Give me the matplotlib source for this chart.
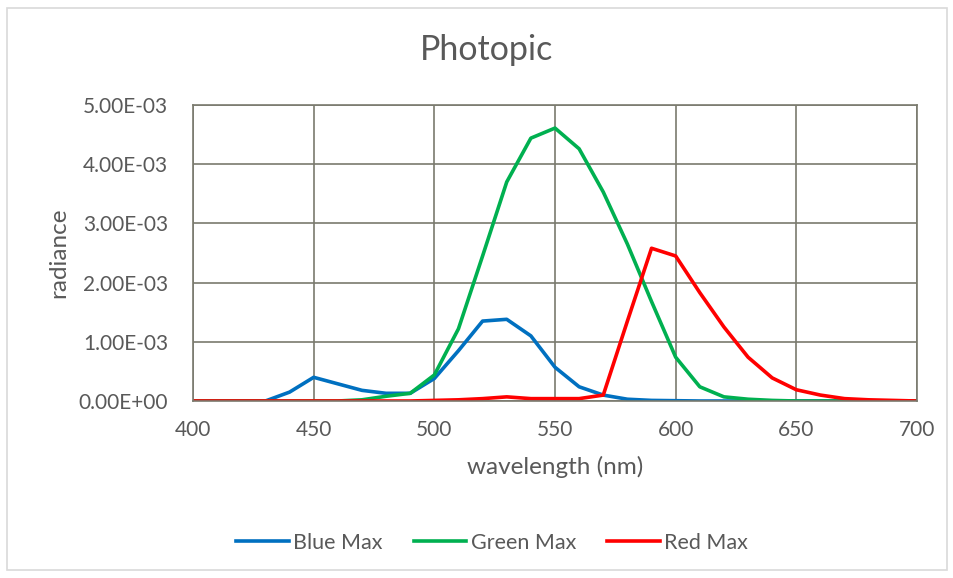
import matplotlib.pyplot as plt
from matplotlib.patches import Rectangle
from matplotlib.ticker import FuncFormatter
import numpy as np

plt.rcParams['font.family'] = ['Lato', 'DejaVu Sans']

wavelength = np.arange(400, 701, 10)

blue_max = [0, 0, 0, 0.0, 0.15, 0.40, 0.29, 0.18, 0.13, 0.13,
            0.38, 0.85, 1.35, 1.38, 1.10, 0.57, 0.24, 0.10, 0.03, 0.01,
            0.005, 0, 0, 0, 0, 0, 0, 0, 0, 0, 0]
green_max = [0, 0, 0, 0, 0, 0, 0, 0.02, 0.08, 0.13,
             0.44, 1.22, 2.45, 3.70, 4.44, 4.61, 4.26, 3.53, 2.65, 1.68,
             0.74, 0.24, 0.07, 0.03, 0.01, 0, 0, 0, 0, 0, 0]
red_max = [0, 0, 0, 0, 0, 0, 0, 0, 0, 0,
           0.01, 0.02, 0.04, 0.07, 0.04, 0.04, 0.04, 0.10, 1.35, 2.58,
           2.45, 1.83, 1.25, 0.74, 0.39, 0.19, 0.10, 0.04, 0.02, 0.01, 0]

series = [("Blue Max", blue_max, "#0070C0"),
          ("Green Max", green_max, "#00B050"),
          ("Red Max", red_max, "#FF0000")]

text_col = "#595959"
grid_col = "#7a7a6e"

fig = plt.figure(figsize=(9.54, 5.78), dpi=100)
fig.patches.append(Rectangle((7 / 954, 8 / 578), 940 / 954, 562 / 578,
                             transform=fig.transFigure, fill=False,
                             edgecolor="#d9d9d9", lw=1.2))
ax = fig.add_axes([193 / 954, 1 - 401 / 578, 724 / 954, 296 / 578])

for name, vals, col in series:
    ax.plot(wavelength, np.array(vals) * 1e-3, color=col, lw=2.6, label=name)

ax.set_xlim(400, 700)
ax.set_ylim(0, 5e-3)
ax.set_xticks(np.arange(400, 701, 50))
ax.set_yticks(np.arange(0, 5.01e-3, 1e-3))
ax.yaxis.set_major_formatter(FuncFormatter(lambda v, p: f"{v:.2E}"))
ax.grid(True, color=grid_col, lw=1.2)
for s in ax.spines.values():
    s.set_color(grid_col)
    s.set_linewidth(1.2)
ax.tick_params(length=0, labelsize=15, colors=text_col)
ax.tick_params(axis="x", pad=14)
ax.tick_params(axis="y", pad=18)
ax.set_axisbelow(True)

fig.text(487 / 954, 1 - 50 / 578, "Photopic", fontsize=24.5, color=text_col,
         ha="center", va="center")
ax.set_xlabel("wavelength (nm)", fontsize=17.5, color=text_col, labelpad=11)
ax.set_ylabel("radiance", fontsize=17.5, color=text_col, labelpad=7)

fig.legend(loc="center", bbox_to_anchor=(492 / 954, 1 - 543 / 578), ncol=3,
           frameon=False, fontsize=15.5, labelcolor=text_col, handlelength=2.45,
           handletextpad=0.2, columnspacing=1.45)

fig.savefig("out.png", dpi=100)
